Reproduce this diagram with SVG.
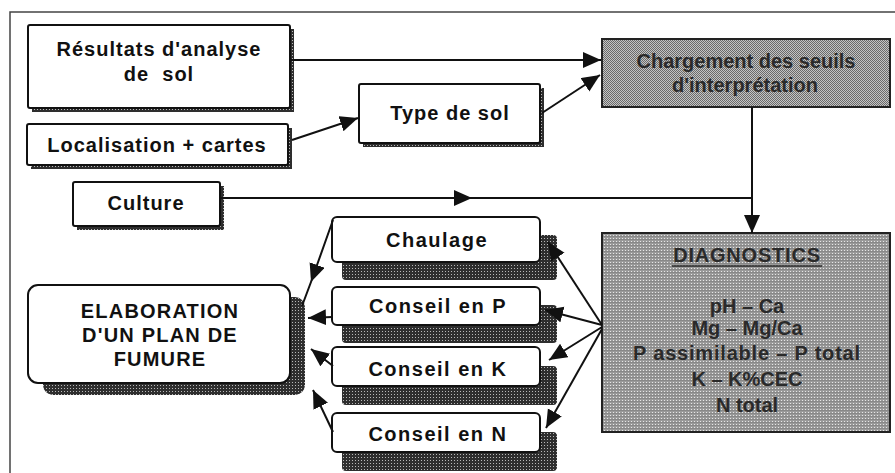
<svg xmlns="http://www.w3.org/2000/svg" width="895" height="473" viewBox="0 0 895 473">
<style>
.box{fill:#fff;stroke:#111;stroke-width:2}
.t{font-family:"Liberation Sans",Arial,sans-serif;font-weight:bold;font-size:20px;fill:#111;text-anchor:middle;letter-spacing:1px;white-space:pre}
.tg{font-family:"Liberation Sans",Arial,sans-serif;font-weight:bold;font-size:20px;fill:#2a2a2a;text-anchor:middle}
.c{fill:none;stroke:#111;stroke-width:2}
</style>
<defs>
<pattern id="chk" width="2" height="2" patternUnits="userSpaceOnUse">
<rect width="2" height="2" fill="#c4c4c4"/><rect width="1" height="1" fill="#6a6a6a"/><rect x="1" y="1" width="1" height="1" fill="#6a6a6a"/>
</pattern>
<pattern id="dg" width="3" height="3" patternUnits="userSpaceOnUse">
<rect width="3" height="3" fill="#9a9a9a"/><rect x="1" y="1" width="1" height="1" fill="#e6e6e6"/><rect x="0" y="2" width="3" height="1" fill="#888"/>
</pattern>
<pattern id="sh" width="3" height="3" patternUnits="userSpaceOnUse">
<rect width="3" height="3" fill="#2e2e2e"/><rect x="1" y="1" width="1" height="1" fill="#b8b8b8"/>
</pattern>
<marker id="ah" markerUnits="userSpaceOnUse" markerWidth="20" markerHeight="18" refX="18" refY="8" orient="auto">
<path d="M0,0 L18,8 L0,16 z" fill="#111"/>
</marker>
</defs>
<rect width="895" height="473" fill="#fff"/>
<path d="M10,473 L10,12 L895,12" fill="none" stroke="#444" stroke-width="1.5"/>

<g id="resultats">
<rect x="32" y="29" width="262" height="83" fill="url(#sh)"/>
<rect class="box" x="28" y="25" width="262" height="83" rx="2"/>
<text class="t" x="159" y="56">Résultats d'analyse</text>
<text class="t" x="159" y="81" xml:space="preserve">de  sol</text>
</g>
<g id="localisation">
<rect x="31" y="128" width="261" height="41" fill="url(#sh)"/>
<rect class="box" x="27" y="124" width="261" height="41" rx="2"/>
<text class="t" x="157" y="152">Localisation + cartes</text>
</g>
<g id="culture">
<rect x="77" y="186" width="147" height="44" fill="url(#sh)"/>
<rect class="box" x="73" y="182" width="147" height="44" rx="2"/>
<text class="t" x="146" y="210">Culture</text>
</g>
<g id="typesol">
<rect x="363" y="88" width="181" height="59" fill="url(#sh)"/>
<rect class="box" x="359" y="84" width="181" height="59" rx="2"/>
<text class="t" x="450" y="120">Type de sol</text>
</g>
<g id="chargement">
<rect x="602" y="39" width="288" height="68" fill="url(#chk)" stroke="#222" stroke-width="2"/>
<text class="tg" x="746" y="68">Chargement des seuils</text>
<text class="tg" x="745" y="92">d'interprétation</text>
</g>
<g id="diagnostics">
<rect x="602" y="233" width="288" height="199" fill="url(#dg)" stroke="#222" stroke-width="2"/>
<text class="tg" x="747" y="262" style="letter-spacing:0.8px">DIAGNOSTICS</text>
<line x1="672" y1="266" x2="822" y2="266" stroke="#2a2a2a" stroke-width="1.5"/>
<text class="tg" x="747" y="313">pH – Ca</text>
<text class="tg" x="747" y="335">Mg – Mg/Ca</text>
<text class="tg" x="747" y="360" style="letter-spacing:0.8px">P assimilable – P total</text>
<text class="tg" x="747" y="386">K – K%CEC</text>
<text class="tg" x="747" y="412">N total</text>
</g>
<g id="elaboration">
<rect x="43" y="297" width="262" height="98" rx="10" fill="url(#sh)"/>
<rect class="box" x="28" y="285" width="262" height="98" rx="10"/>
<text class="t" x="160" y="318" style="letter-spacing:1.2px">ELABORATION</text>
<text class="t" x="160" y="342" style="letter-spacing:1.2px">D'UN PLAN DE</text>
<text class="t" x="160" y="366" style="letter-spacing:1.2px">FUMURE</text>
</g>
<g id="chaulage">
<rect x="342" y="235" width="215" height="45" rx="4" fill="url(#sh)"/>
<rect class="box" x="332" y="217" width="208" height="45" rx="5"/>
<text class="t" x="437" y="247" style="letter-spacing:1.5px">Chaulage</text>
</g>
<g id="conseilP">
<rect x="342" y="305" width="215" height="38" rx="4" fill="url(#sh)"/>
<rect class="box" x="332" y="287" width="208" height="38" rx="5"/>
<text class="t" x="438" y="313" style="letter-spacing:1.5px">Conseil en P</text>
</g>
<g id="conseilK">
<rect x="342" y="366" width="215" height="39" rx="4" fill="url(#sh)"/>
<rect class="box" x="332" y="347" width="208" height="39" rx="5"/>
<text class="t" x="438" y="376" style="letter-spacing:1.5px">Conseil en K</text>
</g>
<g id="conseilN">
<rect x="342" y="432" width="215" height="39" rx="4" fill="url(#sh)"/>
<rect class="box" x="332" y="413" width="208" height="39" rx="5"/>
<text class="t" x="438" y="441" style="letter-spacing:1.5px">Conseil en N</text>
</g>

<g id="connectors">
<path class="c" d="M290,60 L601,60" marker-end="url(#ah)"/>
<path class="c" d="M292,140 L358,118" marker-end="url(#ah)"/>
<path class="c" d="M542,113 L600,75" marker-end="url(#ah)"/>
<path class="c" d="M220,198 L472,198 L752,198" marker-mid="url(#ah)"/>
<path class="c" d="M752,107 L752,233" marker-end="url(#ah)"/>
<path class="c" d="M602,325 L548,242" marker-end="url(#ah)"/>
<path class="c" d="M602,325 L545,310" marker-end="url(#ah)"/>
<path class="c" d="M602,327 L549,360" marker-end="url(#ah)"/>
<path class="c" d="M602,329 L546,428" marker-end="url(#ah)"/>
<path class="c" d="M333,220 L311,282 L302,306" marker-mid="url(#ah)"/>
<path class="c" d="M332,317 L308,318" marker-end="url(#ah)"/>
<path class="c" d="M333,366 L311,349" marker-end="url(#ah)"/>
<path class="c" d="M333,432 L313,390" marker-end="url(#ah)"/>
</g>
</svg>
